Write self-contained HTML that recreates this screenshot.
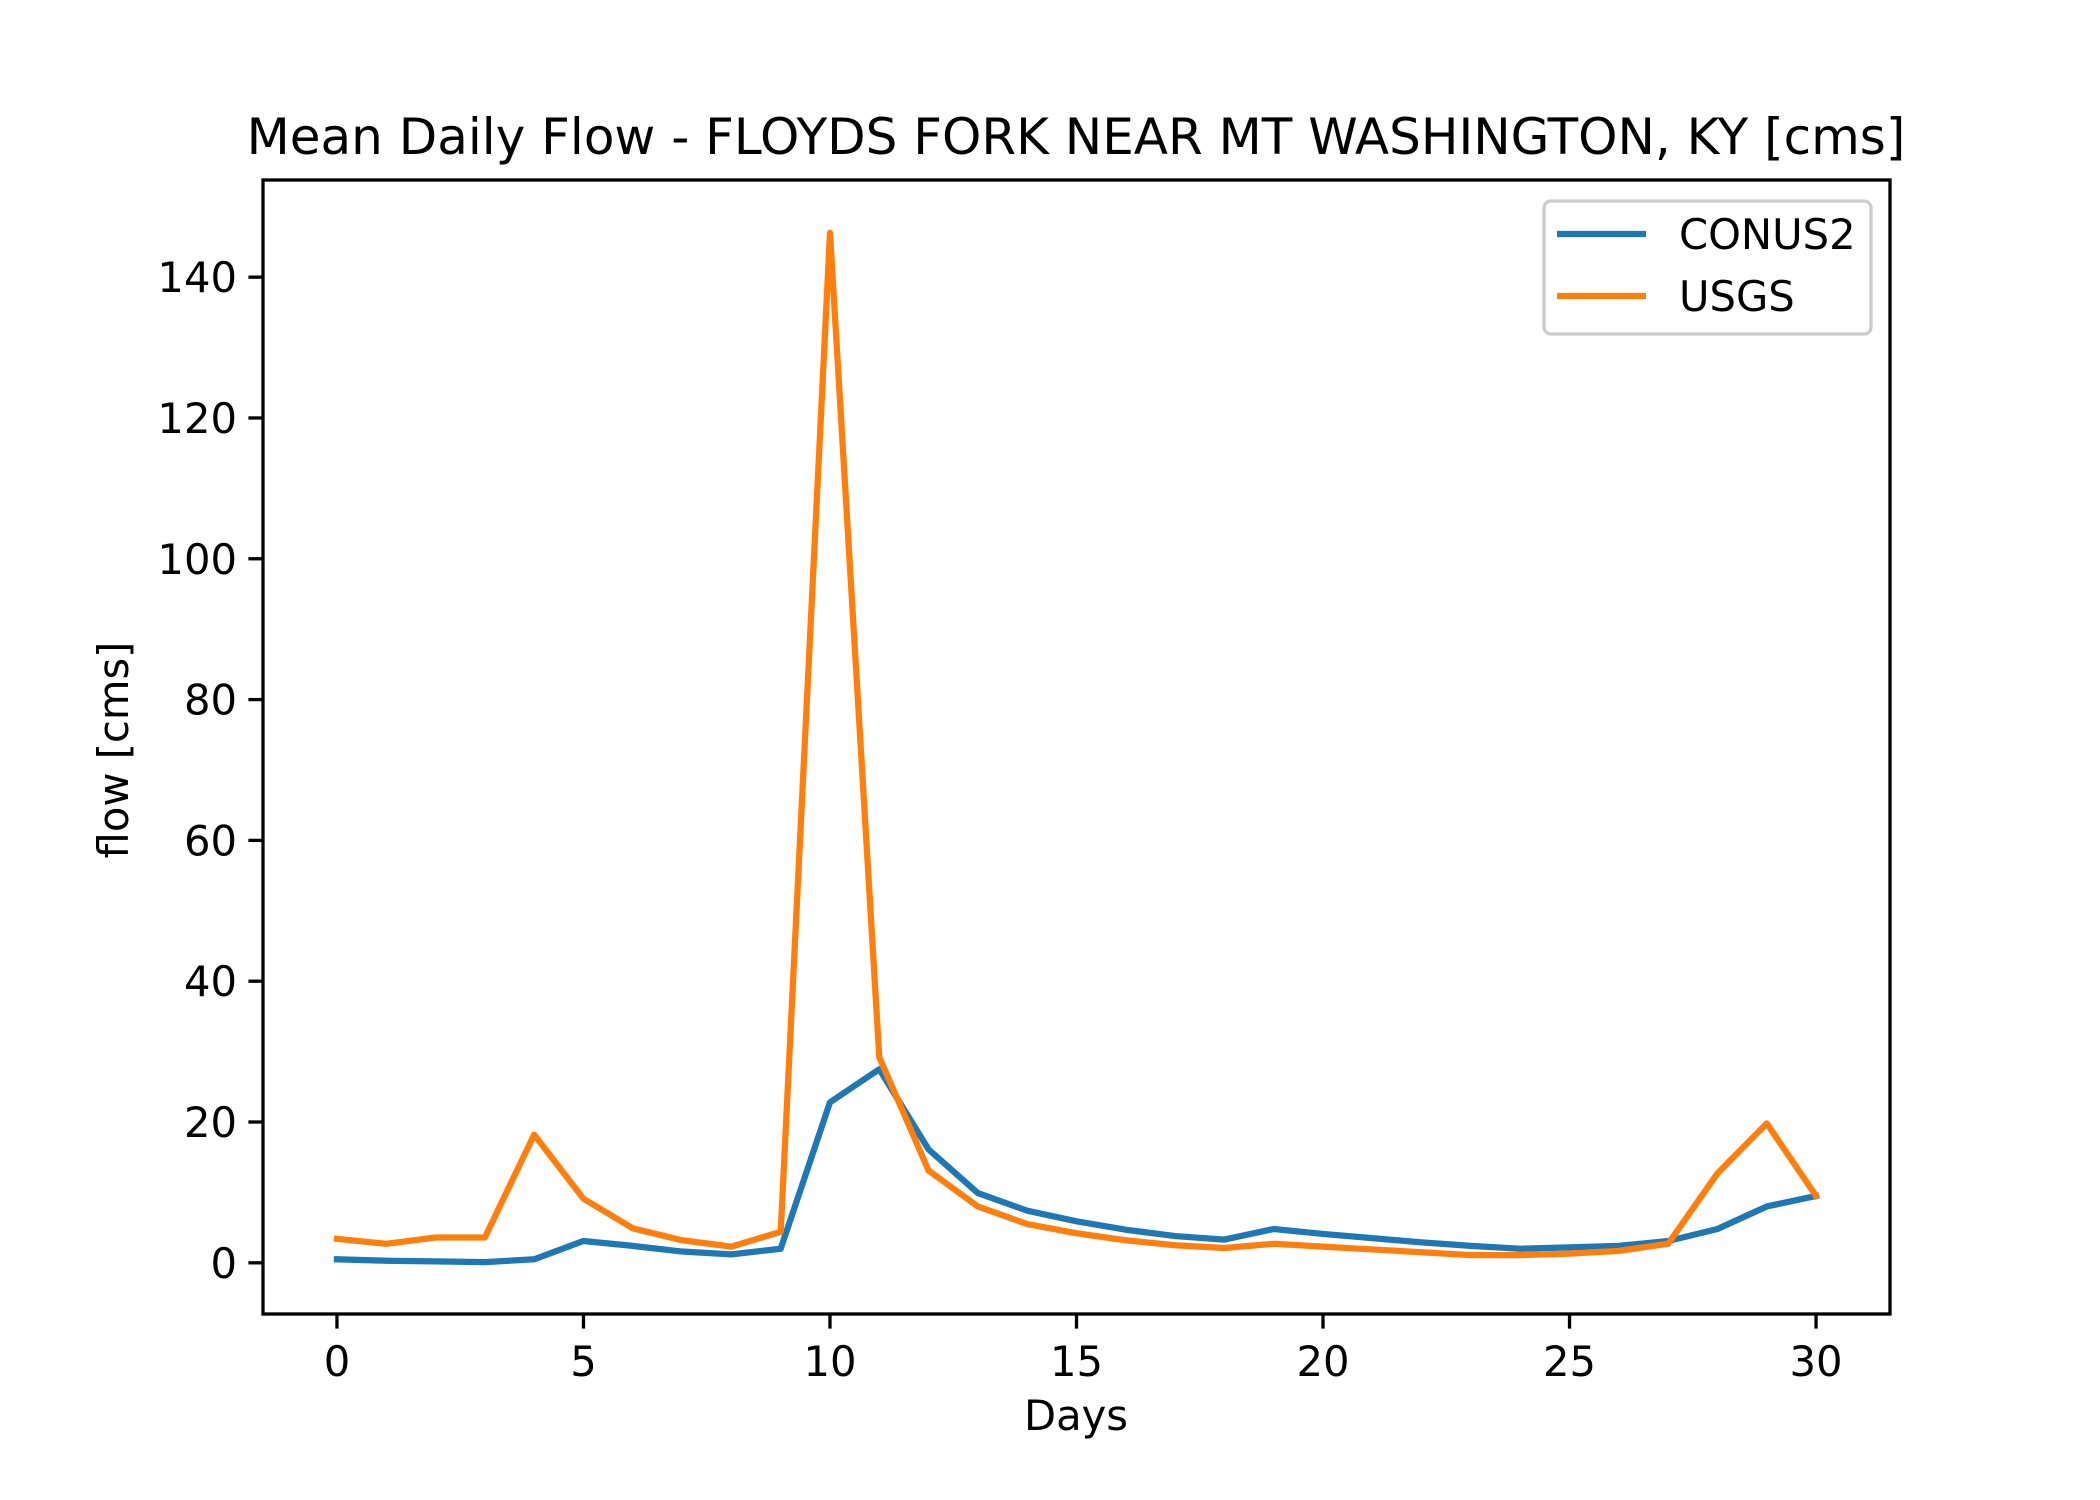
<!DOCTYPE html>
<html><head><meta charset="utf-8"><style>
html,body{margin:0;padding:0;background:#fff;width:2100px;height:1500px;overflow:hidden}
svg text{font-family:"DejaVu Sans","Liberation Sans",sans-serif;fill:#000}
</style></head><body>
<svg id="chart" width="2100" height="1500" viewBox="0 0 2100 1500" xmlns="http://www.w3.org/2000/svg">
<rect x="0" y="0" width="2100" height="1500" fill="#fff"/>
<text x="1076" y="154" font-size="50" text-anchor="middle">Mean Daily Flow - FLOYDS FORK NEAR MT WASHINGTON, KY [cms]</text>
<g id="xticks"></g><g id="yticks"></g>
<g id="series"></g>
<rect x="263" y="180" width="1627" height="1134" fill="none" stroke="#000" stroke-width="3.3"/>
<text x="1076" y="1430" font-size="41.7" text-anchor="middle">Days</text>
<text x="0" y="0" font-size="41.7" text-anchor="middle" transform="translate(128,750) rotate(-90)">flow [cms]</text>
<g>
<rect x="1544" y="201" width="327" height="133" rx="7" fill="#fff" fill-opacity="0.8" stroke="#ccc" stroke-width="3.3"/>
<line x1="1557" y1="234" x2="1646" y2="234" stroke="#1f77b4" stroke-width="6.25"/>
<text x="1679" y="249" font-size="41.7">CONUS2</text>
<line x1="1557" y1="296" x2="1646" y2="296" stroke="#ff7f0e" stroke-width="6.25"/>
<text x="1679" y="311" font-size="41.7">USGS</text>
</g>
</svg>
<script>
const days = Array.from({length:31},(_, i)=>i);
const conus2 = [0.5,0.3,0.2,0.1,0.5,3.1,2.4,1.6,1.2,2.0,22.8,27.5,16.1,9.9,7.4,5.9,4.7,3.8,3.3,4.8,4.1,3.5,2.9,2.4,2.0,2.2,2.4,3.1,4.8,8.0,9.5];
const usgs = [3.4,2.7,3.6,3.6,18.2,9.1,4.9,3.2,2.3,4.4,146.3,29.2,13.1,8.0,5.5,4.2,3.2,2.5,2.1,2.7,2.3,1.9,1.5,1.1,1.1,1.3,1.7,2.7,12.7,19.8,9.5];
const xTicks = [0,5,10,15,20,25,30];
const yTicks = [0,20,40,60,80,100,120,140];

const NS='http://www.w3.org/2000/svg';
const L=263,R=1890,T=180,B=1314;
const xMin=-1.5,xMax=31.5,yMin=-7.27,yMax=153.8;
const sx=v=>L+(v-xMin)/(xMax-xMin)*(R-L);
const sy=v=>B-(v-yMin)/(yMax-yMin)*(B-T);
function mk(tag,attrs,parent){const e=document.createElementNS(NS,tag);for(const k in attrs)e.setAttribute(k,attrs[k]);parent.appendChild(e);return e;}
const xg=document.getElementById('xticks'),yg=document.getElementById('yticks'),sg=document.getElementById('series');
xTicks.forEach(t=>{
  const l=mk('line',{x1:sx(t),x2:sx(t),y1:B,y2:B+14.6,stroke:'#000','stroke-width':3.3},xg);
  
  
  const tx=mk('text',{x:sx(t),y:B+62,'font-size':41.7,'text-anchor':'middle'},xg);
  tx.textContent=t;
  
  
});
yTicks.forEach(t=>{
  const l=mk('line',{x1:L-14.6,x2:L,y1:sy(t),y2:sy(t),stroke:'#000','stroke-width':3.3},yg);
  
  
  const tx=mk('text',{x:L-26,y:sy(t)+15,'font-size':41.7,'text-anchor':'end'},yg);
  tx.textContent=t;
  
  
});
function line(vals,color,name){
  const p=mk('polyline',{points:vals.map((v,i)=>sx(days[i])+','+sy(v)).join(' '),fill:'none',stroke:color,'stroke-width':6.25,'stroke-linejoin':'round','stroke-linecap':'square'},sg);
  
  
}
line(conus2,'#1f77b4','conus2-line');
line(usgs,'#ff7f0e','usgs-line');
</script>
</body></html>
